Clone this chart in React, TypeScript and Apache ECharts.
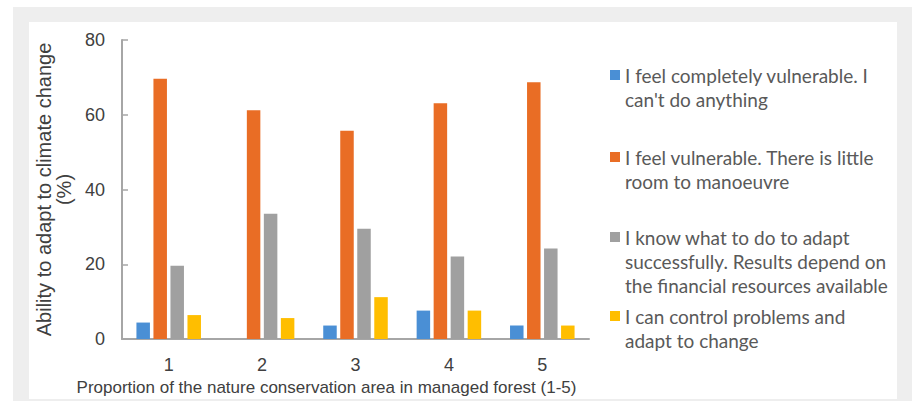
import React, { useEffect, useRef } from "react";
import * as echarts from "echarts";

const categories = ["1", "2", "3", "4", "5"];

const seriesNames = [
  "I feel completely vulnerable. I\ncan't do anything",
  "I feel vulnerable. There is little\nroom to manoeuvre",
  "I know what to do to adapt\nsuccessfully. Results depend on\nthe financial resources available",
  "I can control problems and\nadapt to change",
];

const completelyVulnerable = [4.4, 0, 3.6, 7.6, 3.6];
const vulnerable = [69.6, 61.2, 55.7, 63.1, 68.7];
const knowWhatToDo = [19.6, 33.5, 29.5, 22.1, 24.2];
const canControl = [6.4, 5.6, 11.2, 7.6, 3.6];

const seriesValues = [completelyVulnerable, vulnerable, knowWhatToDo, canControl];
const seriesColors = ["#4A8FD5", "#E96D25", "#A0A0A0", "#FFBE00"];

const yTicks = { min: 0, max: 80, interval: 20 };
const xTitle = "Proportion of the nature conservation area in managed forest (1-5)";
const yTitle = "Ability to adapt to climate change\n(%)";

export default function App() {
  const ref = useRef<HTMLDivElement>(null);

  useEffect(() => {
    if (!ref.current) return;
    const chart = echarts.init(ref.current, undefined, { renderer: "svg" });
    const axisColor = "#A6A6A6";
    const labelColor = "#404040";
    const LH = 24;
    const iconCenters = [75, 157, 237, 316];

    const legends = seriesNames.map((name, i) => {
      const n = name.split("\n").length;
      const h = n * LH;
      const sq0 = LH / 2 - 5;
      const icon =
        `path://M0,${sq0}H10V${sq0 + 10}H0Z` +
        `M0,0H0.01V0.01H0Z` +
        `M0,${h - 0.01}H0.01V${h}H0Z`;
      return {
        data: [name],
        orient: "vertical",
        left: 610,
        top: iconCenters[i] - LH / 2,
        padding: 0,
        itemWidth: 10,
        itemHeight: h,
        icon,
        itemStyle: { borderWidth: 0 },
        selectedMode: false,
        textStyle: {
          fontFamily: "Lato",
          fontSize: 19,
          color: "#595959",
          lineHeight: LH,
        },
      };
    });

    chart.setOption({
      animation: false,
      backgroundColor: "transparent",
      grid: { left: 122, right: 323, top: 40, bottom: 61 },
      legend: legends,
      xAxis: {
        type: "category",
        data: categories,
        axisTick: { show: false },
        axisLine: { lineStyle: { color: axisColor, width: 2 } },
        axisLabel: {
          fontFamily: "Liberation Sans",
          fontSize: 18,
          color: labelColor,
          margin: 17,
        },
        name: xTitle,
        nameLocation: "middle",
        nameGap: 40,
        nameTextStyle: {
          fontFamily: "Liberation Sans",
          fontSize: 17,
          color: labelColor,
          padding: [0, 58, 0, 0],
        },
      },
      yAxis: {
        type: "value",
        min: yTicks.min,
        max: yTicks.max,
        interval: yTicks.interval,
        splitLine: { show: false },
        axisLine: { show: true, lineStyle: { color: axisColor, width: 2 } },
        axisTick: { show: true, inside: true, length: 6, lineStyle: { color: axisColor, width: 1.5 } },
        axisLabel: {
          fontFamily: "Liberation Sans",
          fontSize: 18,
          color: labelColor,
          margin: 17,
        },
        name: yTitle,
        nameLocation: "middle",
        nameRotate: 90,
        nameGap: 48,
        nameTextStyle: {
          fontFamily: "Liberation Sans",
          fontSize: 20,
          lineHeight: 20,
          color: labelColor,
          align: "center",
        },
      },
      series: seriesNames.map((name, i) => ({
        name,
        type: "bar",
        data: seriesValues[i],
        barWidth: 13.5,
        barGap: "26%",
        itemStyle: { color: seriesColors[i] },
      })),
    });
    return () => chart.dispose();
  }, []);

  return (
    <div style={{ position: "fixed", left: 0, top: 0, width: 912, height: 401, background: "#FFFFFF", overflow: "hidden" }}>
      <div style={{ position: "absolute", left: 13, top: 7, width: 899, height: 394, background: "#EEEEEE" }} />
      <div style={{ position: "absolute", left: 29, top: 22, width: 868, height: 377, background: "#FFFFFF" }} />
      <div ref={ref} style={{ position: "absolute", left: 0, top: 0, width: 912, height: 401 }} />
    </div>
  );
}
